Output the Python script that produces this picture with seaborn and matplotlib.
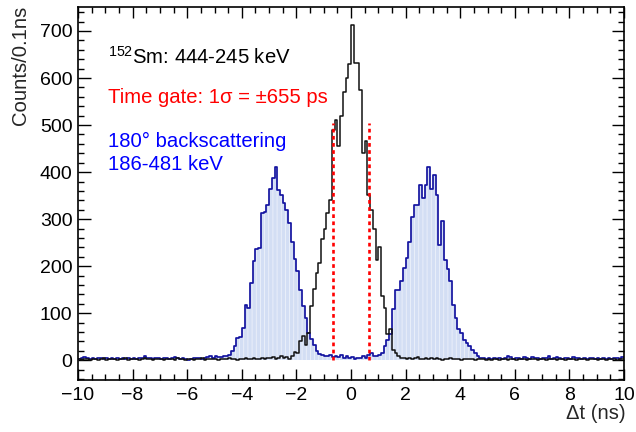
"""
152Sm 444-245 keV 时间差谱：门控谱（黑）与 180° 背散射（蓝）
"""
import numpy as np
import pandas as pd
import matplotlib
matplotlib.use('Agg')
import matplotlib.pyplot as plt
import seaborn as sns
from matplotlib.ticker import MultipleLocator

# ===== 风格 =====
sns.set_theme(style='ticks')
plt.rcParams['font.family'] = ['Liberation Sans', 'DejaVu Sans']
plt.rcParams['mathtext.fontset'] = 'custom'
plt.rcParams['mathtext.rm'] = 'Liberation Sans'
plt.rcParams['hatch.linewidth'] = 0.5
C_BLACK = '#111111'
C_BLUE_LINE = '#1414a0'
C_BLUE_FILL = '#d3def4'
C_HATCH = '#f2f5fc'
C_RED = '#ff0000'
C_TEXT_BLUE = '#0000ff'
FS_TICK = 14
FS = 14.6

# ===== 数据：Δt 直方图，-10 ~ 10 ns，每 bin 0.1 ns =====
t_lo, t_hi = -10.0, 10.0

# 门控谱 (黑线)
counts_gate = [
    2, 1, 3, 2, 0, 2, 3, 1, 2, 4,            # -10.0 .. -9.1
    1, 3, 2, 2, 1, 3, 2, 4, 1, 2,            # -9.0 .. -8.1
    3, 2, 1, 2, 4, 2, 3, 1, 2, 3,            # -8.0 .. -7.1
    2, 1, 3, 2, 2, 1, 4, 2, 3, 1,            # -7.0 .. -6.1
    2, 3, 1, 2, 2, 4, 1, 3, 2, 2,            # -6.0 .. -5.1
    3, 1, 2, 3, 2, 4, 2, 3, 1, 3,            # -5.0 .. -4.1
    2, 4, 3, 2, 5, 3, 2, 4, 3, 5,            # -4.0 .. -3.1
    4, 6, 3, 5, 8, 4, 6, 3, 10, 18,          # -3.0 .. -2.1
    15, 40, 51, 33, 58, 115, 151, 185, 206, 257,   # -2.0 .. -1.1
    278, 312, 341, 490, 510, 455, 520, 570, 600, 630,  # -1.0 .. -0.1
    712, 631, 631, 575, 440, 467, 352, 320, 280, 214,  # 0.0 .. 0.9
    240, 136, 111, 55, 66, 22, 15, 8, 5, 4,  # 1.0 .. 1.9
    3, 5, 2, 4, 6, 3, 2, 5, 3, 4,            # 2.0 .. 2.9
    2, 4, 3, 1, 3, 2, 4, 3, 2, 3,            # 3.0 .. 3.9
    1, 3, 2, 2, 3, 1, 2, 3, 2, 1,            # 4.0 .. 4.9
    2, 1, 3, 2, 1, 2, 3, 1, 2, 2,            # 5.0 .. 5.9
    1, 2, 3, 2, 1, 3, 2, 2, 1, 3,            # 6.0 .. 6.9
    2, 1, 2, 3, 2, 1, 2, 3, 1, 2,            # 7.0 .. 7.9
    3, 2, 1, 2, 2, 3, 1, 2, 3, 2,            # 8.0 .. 8.9
    1, 2, 3, 1, 2, 2, 3, 1, 2, 2,            # 9.0 .. 9.9
]

# 180° 背散射 (蓝色填充)
counts_back = [
    3, 5, 7, 4, 3, 4, 3, 5, 4, 2,            # -10.0 .. -9.1
    4, 3, 5, 3, 4, 3, 5, 3, 4, 3,            # -9.0 .. -8.1
    4, 3, 5, 4, 9, 5, 4, 3, 5, 4,            # -8.0 .. -7.1
    3, 4, 5, 3, 4, 6, 4, 3, 4, 2,            # -7.0 .. -6.1
    1, 3, 4, 5, 4, 3, 5, 6, 8, 5,            # -6.0 .. -5.1
    9, 7, 6, 8, 10, 12, 19, 30, 47, 50,      # -5.0 .. -4.1
    69, 118, 112, 164, 210, 237, 238, 312, 315, 330,   # -4.0 .. -3.1
    365, 388, 410, 362, 351, 334, 320, 291, 252, 215,  # -3.0 .. -2.1
    190, 150, 115, 90, 58, 45, 32, 19, 14, 12,         # -2.0 .. -1.1
    10, 9, 12, 7, 10, 6, 11, 5, 8, 4,        # -1.0 .. -0.1
    6, 3, 5, 4, 9, 5, 12, 15, 9, 8,          # 0.0 .. 0.9
    12, 15, 30, 42, 55, 110, 150, 150, 168, 196,       # 1.0 .. 1.9
    217, 252, 305, 330, 330, 372, 344, 372, 411, 365,  # 2.0 .. 2.9
    394, 351, 246, 295, 214, 193, 168, 118, 90, 66,    # 3.0 .. 3.9
    58, 44, 37, 30, 22, 15, 8, 5, 4, 3,      # 4.0 .. 4.9
    5, 3, 4, 2, 5, 3, 4, 8, 6, 3,            # 5.0 .. 5.9
    4, 5, 3, 6, 4, 3, 7, 5, 4, 3,            # 6.0 .. 6.9
    5, 4, 8, 3, 4, 6, 4, 3, 5, 4,            # 7.0 .. 7.9
    3, 6, 4, 5, 3, 4, 2, 5, 4, 3,            # 8.0 .. 8.9
    4, 3, 5, 2, 4, 3, 5, 4, 3, 6,            # 9.0 .. 9.9
]

gate_sigma = 0.655      # ns，±1σ 时间门
gate_top = 505          # 门线高度 (counts)

edges = np.linspace(t_lo, t_hi, len(counts_gate) + 1)
centers = 0.5 * (edges[:-1] + edges[1:])
df = pd.DataFrame({'t': centers, 'gate': counts_gate, 'back': counts_back})

# ===== 作图 =====
fig = plt.figure(figsize=(6.36, 4.32), dpi=100)
ax = fig.add_axes([78 / 636, 1 - 380 / 432, (624 - 78) / 636, (380 - 7) / 432])

# 背散射：填充 + 竖线花纹
sns.histplot(data=df, x='t', weights='back', bins=len(centers),
             binrange=(t_lo, t_hi), element='step', fill=True,
             facecolor=C_BLUE_FILL, edgecolor=C_HATCH, linewidth=0,
             hatch='||||', alpha=1, ax=ax)
sns.histplot(data=df, x='t', weights='back', bins=len(centers),
             binrange=(t_lo, t_hi), element='step', fill=False,
             color=C_BLUE_LINE, linewidth=1.25, ax=ax)
# 门控谱
sns.histplot(data=df, x='t', weights='gate', bins=len(centers),
             binrange=(t_lo, t_hi), element='step', fill=False,
             color=C_BLACK, linewidth=1.1, ax=ax)

# 时间门
ax.vlines([-gate_sigma, gate_sigma], 0, gate_top, colors=C_RED,
          linestyles=(0, (1.4, 1.3)), linewidth=1.9)

ax.set_xlim(t_lo, t_hi)
ax.set_ylim(-42, 751)
ax.set_xlabel('')
ax.set_ylabel('')
ax.xaxis.set_major_locator(MultipleLocator(2))
ax.xaxis.set_minor_locator(MultipleLocator(0.5))
ax.yaxis.set_major_locator(MultipleLocator(100))
ax.yaxis.set_minor_locator(MultipleLocator(20))
ax.set_yticks(np.arange(0, 701, 100))
ax.tick_params(axis='both', which='both', direction='in', top=True,
               right=True, labelsize=FS_TICK, colors='black', width=1.0)
ax.tick_params(axis='x', which='major', length=8, pad=5)
ax.tick_params(axis='x', which='minor', length=4)
ax.tick_params(axis='y', which='major', length=9, pad=4)
ax.tick_params(axis='y', which='minor', length=4.5)
for sp in ax.spines.values():
    sp.set_visible(True)
    sp.set_linewidth(1.2)
    sp.set_color('black')
ax.grid(False)

# 轴标题 (ROOT 风格，靠端对齐)
fig.text(21 / 636, 1 - 6 / 432, 'Counts/0.1ns', rotation=90,
         ha='center', va='top', fontsize=FS)
fig.text(626 / 636, 1 - 419 / 432, 'Δt (ns)', ha='right', va='baseline',
         fontsize=FS)

# 图内文字
fig.text(108 / 636, 1 - 64 / 432, r'$^{152}$Sm: 444-245 keV',
         ha='left', va='baseline', fontsize=FS, color='black')
fig.text(108 / 636, 1 - 103 / 432, 'Time gate: 1σ = ±655 ps',
         ha='left', va='baseline', fontsize=FS, color=C_RED)
fig.text(108 / 636, 1 - 147 / 432, '180° backscattering',
         ha='left', va='baseline', fontsize=FS, color=C_TEXT_BLUE)
fig.text(108 / 636, 1 - 170 / 432, '186-481 keV',
         ha='left', va='baseline', fontsize=FS, color=C_TEXT_BLUE)

fig.savefig('out.png', dpi=100)
